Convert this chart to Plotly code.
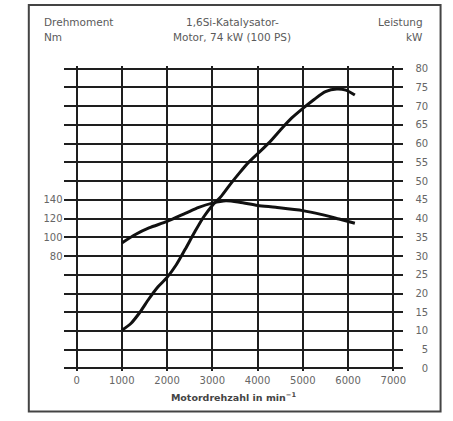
import plotly.graph_objects as go

# ---- data ----
rpm_ticks = [0, 1000, 2000, 3000, 4000, 5000, 6000, 7000]
rpm_labels = ["0", "1000", "2000", "3000", "4000", "5000", "6000", "7000"]
nm_ticks = [80, 100, 120, 140]
nm_labels = ["80", "100", "120", "140"]
kw_ticks = [0, 5, 10, 15, 20, 25, 30, 35, 40, 45, 50, 55, 60, 65, 70, 75, 80]
kw_labels = [str(v) for v in kw_ticks]

torque_rpm = [1000, 1300, 1600, 2000, 2400, 2700, 3000, 3300, 3600, 4000, 4400, 5000, 5400, 5800, 6150]
torque_nm = [94, 103, 110, 117, 125.5, 132, 136.5, 139, 137.5, 134, 132, 128.5, 124.5, 119.5, 115]

power_rpm = [1000, 1200, 1400, 1600, 1800, 2000, 2200, 2400, 2600, 2800, 3000, 3200,
             3400, 3600, 3800, 4000, 4250, 4500, 4750, 5000, 5250, 5500, 5750, 5950, 6150]
power_kw = [10.2, 12, 15, 18.6, 21.8, 24.3, 27.6, 31.8, 36.2, 40.3, 43.5, 46,
            49.2, 52.2, 55, 57.3, 60.2, 63.6, 66.8, 69.4, 71.8, 73.9, 74.6, 74.3, 73]

W, H = 453, 421
def px(x):
    return x / W
def py(y):
    return 1 - y / H

kw_pad = 0.6
kw_range = [-kw_pad, 80 + kw_pad]
nm_range = [4 * kw_range[0] - 40, 4 * kw_range[1] - 40]

GRID = "#1e1e1e"
TXT = "#666666"
FONT = "DejaVu Sans"

fig = go.Figure()
fig.add_trace(go.Scatter(x=torque_rpm, y=torque_nm, mode="lines", yaxis="y",
                         line=dict(color="#111111", width=3, shape="spline", smoothing=0.8),
                         hoverinfo="skip", showlegend=False))
fig.add_trace(go.Scatter(x=power_rpm, y=power_kw, mode="lines", yaxis="y2",
                         line=dict(color="#111111", width=3, shape="spline", smoothing=0.8),
                         hoverinfo="skip", showlegend=False))

fig.update_layout(
    width=W, height=H,
    margin=dict(l=0, r=0, t=0, b=0),
    paper_bgcolor="white", plot_bgcolor="white",
    font=dict(family=FONT, size=10, color=TXT),
    xaxis=dict(domain=[px(64), px(406)], range=[-287.6, 7220.6],
               tickmode="array", tickvals=rpm_ticks, ticktext=rpm_labels,
               showgrid=True, gridcolor=GRID, gridwidth=2, zeroline=False,
               showline=False, ticks="", ticklabelstandoff=2,
               tickfont=dict(family=FONT, size=10, color=TXT),
               title=dict(text="Motordrehzahl in min<sup>−1</sup>", standoff=9,
                          font=dict(family=FONT, size=9.5, color="#444444", weight="bold"))),
    yaxis=dict(domain=[py(373), py(64.4)], range=nm_range,
               tickmode="array", tickvals=nm_ticks, ticktext=nm_labels,
               showgrid=False, zeroline=False, showline=False, ticks="",
               tickfont=dict(family=FONT, size=10, color=TXT)),
    yaxis2=dict(overlaying="y", anchor="free", side="left", position=px(431),
                range=kw_range, tickmode="array", tickvals=kw_ticks, ticktext=kw_labels,
                showgrid=True, gridcolor=GRID, gridwidth=2, zeroline=False,
                showline=False, ticks="",
                tickfont=dict(family=FONT, size=10, color=TXT)),
    shapes=[dict(type="rect", xref="paper", yref="paper",
                 x0=px(29), x1=px(443.5), y0=py(414.5), y1=py(2),
                 line=dict(color="#444444", width=2), fillcolor="rgba(0,0,0,0)", layer="above")],
)

hdr = dict(family=FONT, size=10.5, color="#5a5a5a")
ann = [
    ("Drehmoment", 42, 19, "left"),
    ("Nm", 42, 34, "left"),
    ("1,6Si-Katalysator-", 234, 19, "center"),
    ("Motor, 74 kW (100 PS)", 234, 34, "center"),
    ("Leistung", 427.5, 19, "right"),
    ("kW", 427.5, 34, "right"),
]
for text, x, y, anchor in ann:
    fig.add_annotation(text=text, x=px(x), y=py(y), xref="paper", yref="paper",
                       xanchor=anchor, yanchor="middle", showarrow=False, font=hdr)

fig.write_html("out.html", config={"displayModeBar": False},
               post_script="document.body.style.margin='0';document.body.style.overflow='hidden';")
